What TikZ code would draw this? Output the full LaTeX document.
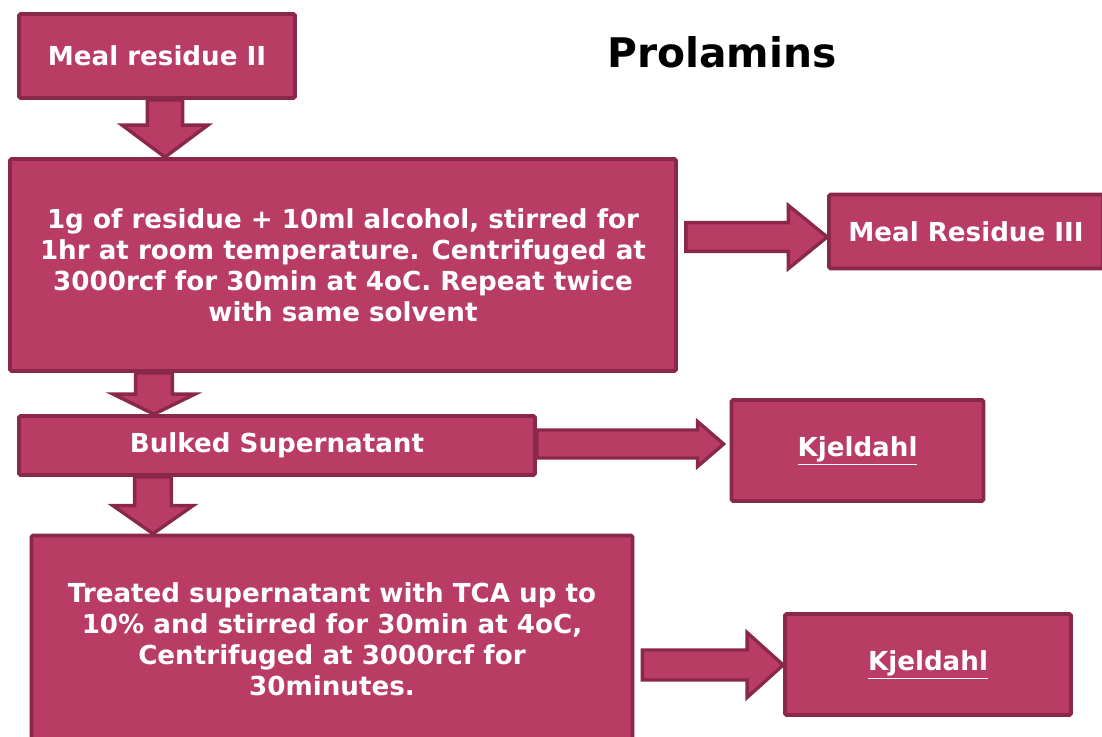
\documentclass[tikz,border=0pt]{standalone}
\usepackage{fontspec}
\setmainfont{DejaVu Sans}
\usetikzlibrary{calc}

\definecolor{boxfill}{RGB}{185,60,100}
\definecolor{boxedge}{RGB}{138,40,75}

\tikzset{
  stage/.style 2 args={draw=boxedge, fill=boxfill, line width=2.6pt, rounded corners=1pt,
    minimum width=#1*0.025cm, minimum height=#2*0.025cm,
    text=white, font=\bfseries\fontsize{18.6}{22}\selectfont, align=center, inner sep=0pt},
  fat arrow/.style n args={3}{draw=boxedge, fill=boxfill, line width=2.4pt, line join=miter,
    to path={($(\tikztostart)!#1!90:(\tikztotarget)$)
      -- ($(\tikztotarget)!#3!(\tikztostart)!#1!90:(\tikztotarget)$)
      -- ($(\tikztotarget)!#3!(\tikztostart)!#2!90:(\tikztotarget)$)
      -- (\tikztotarget)
      -- ($(\tikztotarget)!#3!(\tikztostart)!#2!-90:(\tikztotarget)$)
      -- ($(\tikztotarget)!#3!(\tikztostart)!#1!-90:(\tikztotarget)$)
      -- ($(\tikztostart)!#1!-90:(\tikztotarget)$) -- cycle}},
}

\begin{document}
\begin{tikzpicture}[x=0.025cm,y=-0.025cm]
\clip (0,0) rectangle (1102,736);

\node[font=\bfseries\fontsize{29}{35}\selectfont] (title) at (722,52) {Prolamins};

\node[stage={276}{84}] (ms) at (157,56) {Meal residue II};
\node[stage={666}{212}] (ex) at (343,265)
  {1g of residue + 10ml alcohol, stirred for\\1hr at room temperature. Centrifuged at\\3000rcf for 30min at 4oC. Repeat twice\\with same solvent};
\node[stage={274}{74}] (mr3) at (966,231.5) {Meal Residue III};
\node[stage={516}{59}] (bs) at (277,445.5) {Bulked Supernatant};
\node[stage={252}{101}] (kj1) at (857.5,450.5) {\underline{Kjeldahl}};
\node[stage={601}{207}] (tr) at (332,639)
  {Treated supernatant with TCA up to\\10\% and stirred for 30min at 4oC,\\Centrifuged at 3000rcf for\\30minutes.};
\node[stage={286}{101}] (kj2) at (928,664.5) {\underline{Kjeldahl}};

\draw[fat arrow={0.44cm}{1.07cm}{0.8cm}] (ms.south -| 165,0) to (ex.north -| 165,0);
\draw[fat arrow={0.36cm}{0.79cm}{0.97cm}] ($(ex.east |- 0,237)+(8,0)$) to (mr3.west |- 0,237);
\draw[fat arrow={0.46cm}{1.02cm}{0.5cm}] (ex.south -| 154,0) to (bs.north -| 154,0);
\draw[fat arrow={0.35cm}{0.56cm}{0.65cm}] (bs.east |- 0,444) to ($(kj1.west |- 0,444)+(-6,0)$);
\draw[fat arrow={0.46cm}{1.0cm}{0.7cm}] (bs.south -| 153,0) to (tr.north -| 153,0);
\draw[fat arrow={0.375cm}{0.81cm}{0.9cm}] ($(tr.east |- 0,665)+(8,0)$) to (kj2.west |- 0,665);
\end{tikzpicture}
\end{document}
